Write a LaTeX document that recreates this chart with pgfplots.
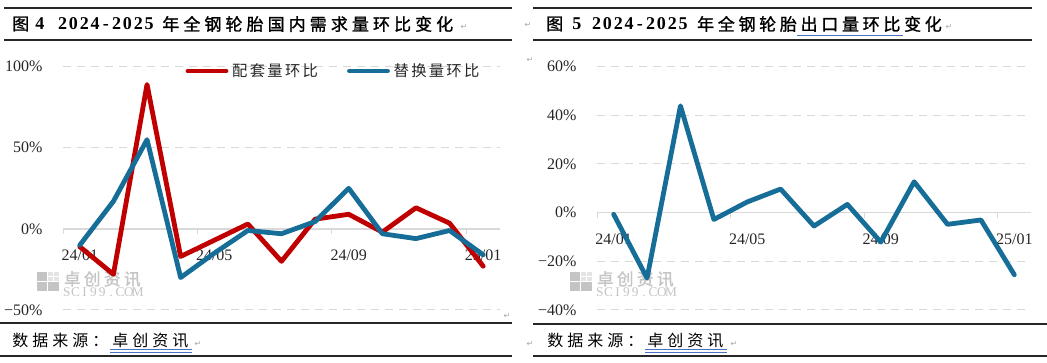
\documentclass[border=0pt]{standalone}
\usepackage{fontspec}
\setmainfont{Liberation Serif}
\newfontfamily\cjk{Noto Sans CJK SC}
\newfontfamily\cjkb[FakeBold=1.2]{Noto Sans CJK SC}
\newfontfamily\sym{DejaVu Sans}
\usepackage{pgfplots}
\pgfplotsset{compat=1.18}
\definecolor{cred}{HTML}{C00000}
\definecolor{cblue}{HTML}{166D97}
\definecolor{gridc}{HTML}{D9D9D9}
\definecolor{wm}{HTML}{C4C4C4}
\definecolor{ulb}{HTML}{4472C4}
\newdimen\pxu \pxu=0.75pt
\newdimen\cw
\def\spc#1{\ifx#1\relax\else\makebox[\cw][c]{#1}\expandafter\spc\fi}
\newcommand\spaced[2]{\cw=#1\relax\spc#2\relax}
\pgfplotsset{
  common/.style={
    scale only axis, anchor=south west,
    xmin=-0.5, xmax=12.5,
    axis x line=middle, axis y line=left,
    every inner x axis line/.append style={-},
    x axis line style={-, draw=gridc, line width=1.1pt},
    y axis line style={-, draw=none},
    xtick={0,4,8,12}, xticklabels={24/01,24/05,24/09,25/01},
    minor xtick={-0.5,3.5,7.5,11.5},
    major x tick style={draw=none},
    minor x tick style={draw=gridc, line width=0.75pt},
    ytick style={draw=none},
    minor tick length=3.75pt,
    tick align=outside,
    hide obscured x ticks=false,
    ymajorgrids, major grid style={gridc, line width=0.75pt, dash pattern=on 6pt off 4.5pt},
    tick label style={font=\fontsize{12}{12}\selectfont, text=black!85},
    xticklabel style={anchor=north, inner sep=0pt, yshift=-11.4pt},
    yticklabel style={anchor=east, inner sep=0pt, xshift=-11pt},
    clip=false,
  },
  dline/.style={line width=3.6pt, line join=round, line cap=round},
}
\begin{document}
\begin{tikzpicture}[x=0.75pt,y=0.75pt]
\path[use as bounding box] (0,0) rectangle (1047,363);
% rules
\begin{scope}[line width=1.1pt, black!85]
\draw (4,355) -- (512,355);
\draw (4,323) -- (512,323);
\draw (0,40) -- (512,40);
\draw (0,7) -- (512,7);
\draw (533,355) -- (1032,355);
\draw (533,323) -- (1032,323);
\draw (533,39) -- (1047,39);
\draw (533,7) -- (1047,7);
\end{scope}
% titles
\node[anchor=west,inner sep=0] at (12,339) {\cjkb\fontsize{12.75}{13}\selectfont 图};
\node[anchor=west,inner sep=0] at (35,339) {\bfseries\fontsize{13.5}{14}\selectfont 4};
\node[anchor=west,inner sep=0] at (57,339) {\bfseries\fontsize{13.5}{14}\selectfont\spaced{10.8\pxu}{2024-2025}};
\node[anchor=west,inner sep=0] at (160,339) {\cjkb\fontsize{12.75}{13}\selectfont\spaced{21.07\pxu}{年全钢轮胎国内需求量环比变化}};
\node[anchor=west,inner sep=0] at (546,339) {\cjkb\fontsize{12.75}{13}\selectfont 图};
\node[anchor=west,inner sep=0] at (572,339) {\bfseries\fontsize{13.5}{14}\selectfont 5};
\node[anchor=west,inner sep=0] at (591,339) {\bfseries\fontsize{13.5}{14}\selectfont\spaced{10.8\pxu}{2024-2025}};
\node[anchor=west,inner sep=0] at (695,339) {\cjkb\fontsize{12.75}{13}\selectfont\spaced{20.7\pxu}{年全钢轮胎出口量环比变化}};
\draw[ulb, line width=0.6pt] (797,327.5) -- (903,327.5);
% sources
\node[anchor=west,inner sep=0] at (10,22) {\cjk\fontsize{12}{12}\selectfont\spaced{20\pxu}{数据来源：卓创资讯}};
\node[anchor=west,inner sep=0] at (545,22) {\cjk\fontsize{12}{12}\selectfont\spaced{20\pxu}{数据来源：卓创资讯}};
\draw[ulb, line width=0.5pt] (110,13.5) -- (192,13.5) (110,11) -- (192,11);
\draw[ulb, line width=0.5pt] (645,13.5) -- (727,13.5) (645,11) -- (727,11);
% paragraph marks
\begin{scope}[every node/.style={text=gray!70, inner sep=0, font=\sym\fontsize{6}{6}\selectfont}]
\node at (464,336) {↵};
\node at (949,336) {↵};
\node at (528,338) {↵};
\node at (530,303) {↵};
\node at (507,47) {↵};
\node at (530,19) {↵};
\node at (198,19) {↵};
\node at (734,19) {↵};
\end{scope}
% watermarks
\foreach \ox in {0,533} {
  \fill[wm] (37+\ox,72) rectangle (47+\ox,91);
  \fill[wm] (48+\ox,72) rectangle (59+\ox,81);
  \fill[wm!45] (48+\ox,82) rectangle (59+\ox,91);
  \draw[white, line width=0.6pt] (37+\ox,81.5) -- (59+\ox,81.5) (47.5+\ox,72) -- (47.5+\ox,91) (53.5+\ox,82) -- (53.5+\ox,91) (48+\ox,86.5) -- (59+\ox,86.5);
  \node[anchor=west, inner sep=0, text=wm] at (62+\ox,84) {\cjkb\fontsize{12.5}{13}\selectfont\spaced{20\pxu}{卓创资讯}};
  \node[anchor=west, inner sep=0, text=wm] at (62+\ox,71) {\fontsize{10}{10}\selectfont\spaced{8.9\pxu}{SCI99.COM}};
}
% left chart
\begin{axis}[common, at={(47.25pt,39.75pt)}, width=327.75pt, height=182.5pt,
  ymin=-50, ymax=100, ytick={-50,0,50,100}, yticklabels={−50\%,0\%,50\%,100\%},
  legend columns=2,
  legend style={at={(0.28,0.982)}, anchor=west, draw=none, fill=none, inner sep=0pt,
    font=\cjk\fontsize{11.5}{12}\selectfont, text=black!85,
    nodes={inner sep=0pt},
    /tikz/every odd column/.append style={column sep=2pt},
    /tikz/every even column/.append style={column sep=21pt}},
  legend cell align=left,
  legend image code/.code={\draw[#1, line width=3.6pt, line cap=round] (0pt,0pt) -- (28.5pt,0pt);},
]
\addplot[cred, dline] coordinates {(0,-11) (1,-28) (2,89) (3,-17) (4,-7) (5,3) (6,-20) (7,6) (8,9) (9,-2) (10,13) (11,3.5) (12,-23)};
\addplot[cblue, dline] coordinates {(0,-10) (1,17) (2,55) (3,-30) (4,-15) (5,-1) (6,-3) (7,4.5) (8,25) (9,-3) (10,-6) (11,-1) (12,-16)};
\legend{\spaced{17.6\pxu}{配套量环比},\spaced{17.6\pxu}{替换量环比}}
\end{axis}
% right chart
\begin{axis}[common, at={(447.75pt,39.75pt)}, width=325.5pt, height=182.5pt,
  ymin=-40, ymax=60, ytick={-40,-20,0,20,40,60}, yticklabels={−40\%,−20\%,0\%,20\%,40\%,60\%},
]
\addplot[cblue, dline] coordinates {(0,-0.7) (1,-26.9) (2,43.9) (3,-2.8) (4,4.4) (5,9.7) (6,-5.5) (7,3.4) (8,-12.1) (9,12.7) (10,-4.8) (11,-3.0) (12,-25.5)};
\end{axis}
\end{tikzpicture}
\end{document}
